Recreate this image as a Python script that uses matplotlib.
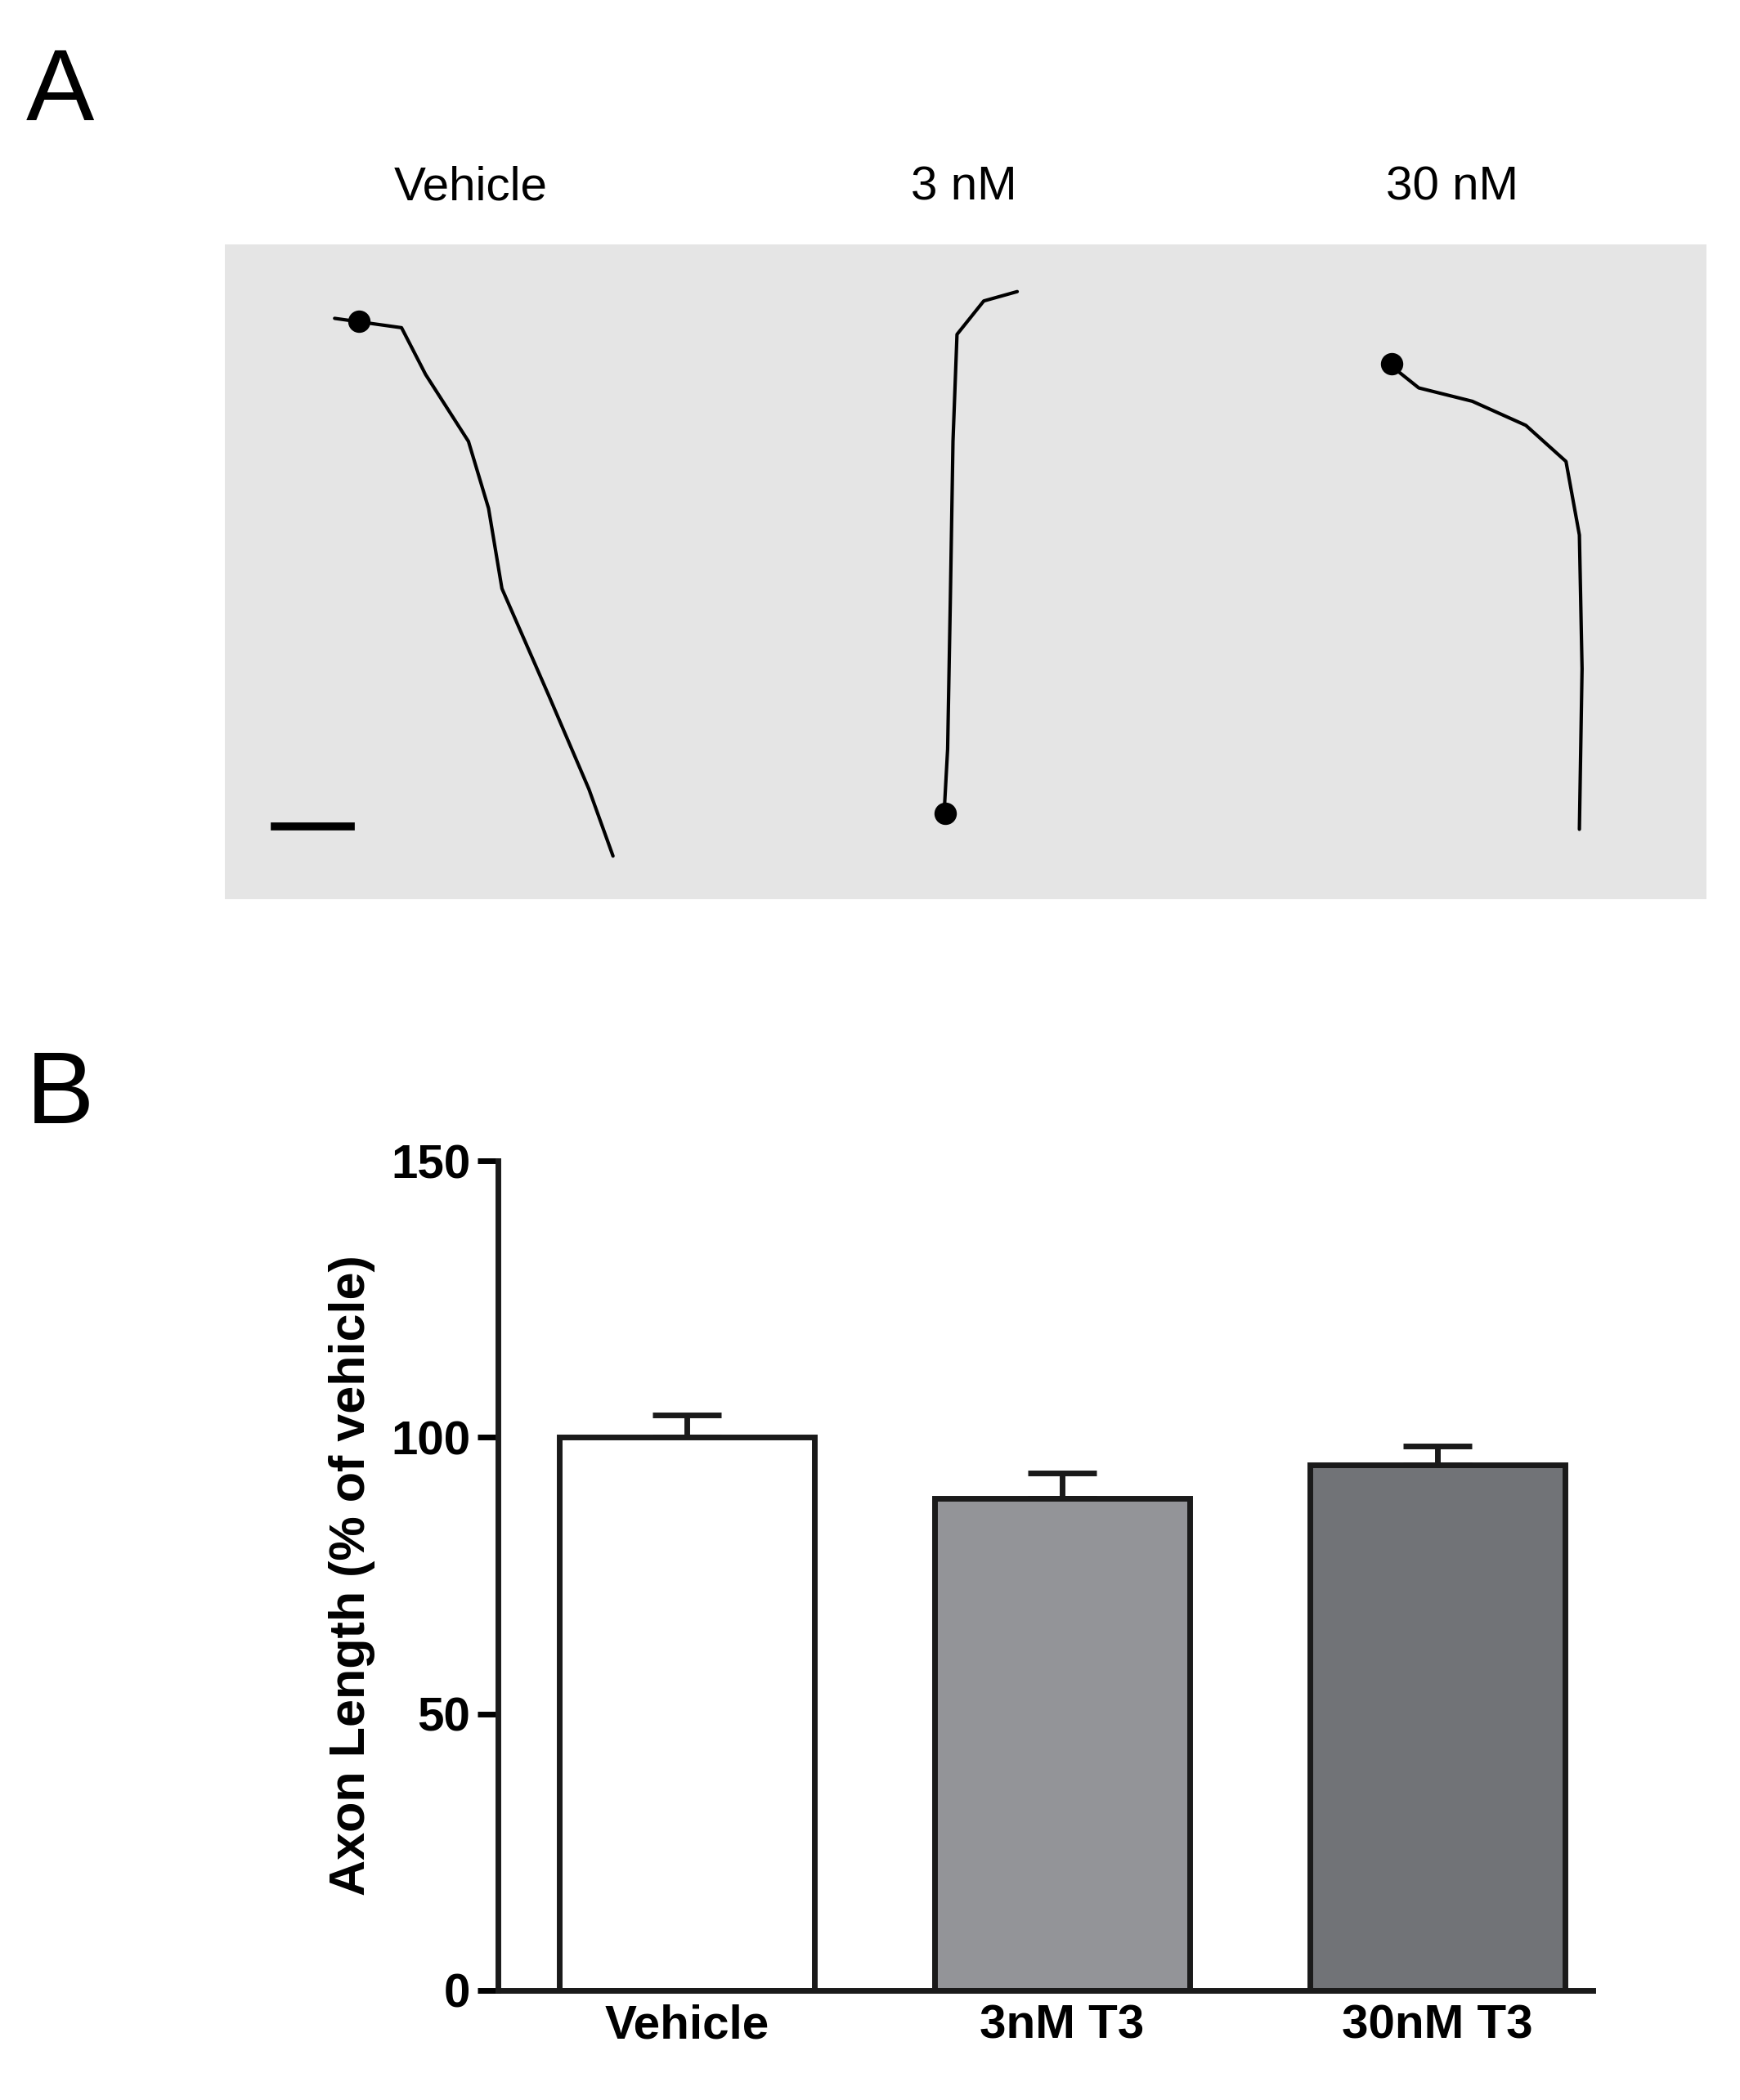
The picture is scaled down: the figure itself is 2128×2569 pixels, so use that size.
import matplotlib
matplotlib.use("Agg")
import matplotlib.pyplot as plt
import numpy as np

plt.rcParams['font.family'] = ['Liberation Sans', 'DejaVu Sans']

# ---- data for panel B ----
categories = ["Vehicle", "3nM T3", "30nM T3"]
values = [100, 89, 95]
errors = [4, 4.5, 3.5]
bar_colors = ["#ffffff", "#939498", "#717377"]
yticks = [0, 50, 100, 150]

# ---- panel A labels and rough neuron traces (image coords) ----
panel_labels = ["Vehicle", "3 nM", "30 nM"]
vehicle_axon_x = [250, 300, 318, 350, 365, 375, 410, 440, 458]
vehicle_axon_y = [238, 245, 280, 330, 380, 440, 520, 590, 640]
nm3_axon_x = [760, 735, 715, 712, 710, 708, 705]
nm3_axon_y = [218, 225, 250, 330, 450, 560, 615]
nm30_axon_x = [1035, 1060, 1100, 1140, 1170, 1180, 1182, 1180]
nm30_axon_y = [270, 290, 300, 318, 345, 400, 500, 620]
somas_x = [268, 706, 1040]
somas_y = [240, 608, 272]

W, H = 1300, 1570
fig = plt.figure(figsize=(21.28, 25.69), dpi=100)
fig.patch.set_facecolor("white")

fig.text(45 / W, 1 - 70 / H, "A", fontsize=90, va="center", ha="center")
fig.text(45 / W, 1 - 820 / H, "B", fontsize=90, va="center", ha="center")
for lbl, x in zip(panel_labels, [352, 720, 1085]):
    fig.text(x / W, 1 - 140 / H, lbl, fontsize=42, ha="center", va="center")

# Panel A image area
x0, x1, y0, y1 = 168, 1275, 183, 672
axA = fig.add_axes([x0 / W, 1 - y1 / H, (x1 - x0) / W, (y1 - y0) / H])
axA.set_xlim(x0, x1)
axA.set_ylim(y1, y0)
axA.axis("off")
axA.add_patch(plt.Rectangle((x0, y0), x1 - x0, y1 - y0, color="#e5e5e5", zorder=0))
for xs, ys in [(vehicle_axon_x, vehicle_axon_y), (nm3_axon_x, nm3_axon_y), (nm30_axon_x, nm30_axon_y)]:
    axA.plot(xs, ys, color="black", lw=3, solid_capstyle="round")
axA.scatter(somas_x, somas_y, s=350, color="black", zorder=3)
axA.plot([205, 262], [618, 618], color="black", lw=7)

# Panel B bar chart
axB = fig.add_axes([372 / W, 1 - 1488 / H, (1190 - 372) / W, (1488 - 868) / H])
x = np.arange(len(categories))
axB.bar(x, values, width=0.68, color=bar_colors, edgecolor="#1a1a1a", linewidth=5, zorder=2)
axB.errorbar(x, values, yerr=[np.zeros(3), errors], fmt="none", ecolor="#1a1a1a",
             elinewidth=5, capsize=30, capthick=5, zorder=1)
axB.set_xlim(-0.503, 2.414)
axB.set_ylim(0, 150)
axB.set_yticks(yticks)
axB.set_xticks(x)
axB.set_xticklabels(categories, fontsize=42, fontweight="bold")
axB.set_yticklabels([str(t) for t in yticks], fontsize=42, fontweight="bold")
axB.spines["top"].set_visible(False)
axB.spines["right"].set_visible(False)
for s in ["left", "bottom"]:
    axB.spines[s].set_linewidth(5)
    axB.spines[s].set_color("#1a1a1a")
axB.tick_params(axis="y", length=18, width=5, direction="out", pad=6)
axB.tick_params(axis="x", length=0, pad=12)
axB.set_ylabel("Axon Length (% of vehicle)", fontsize=44, fontweight="bold", labelpad=14)

fig.savefig("out.png", dpi=100)
